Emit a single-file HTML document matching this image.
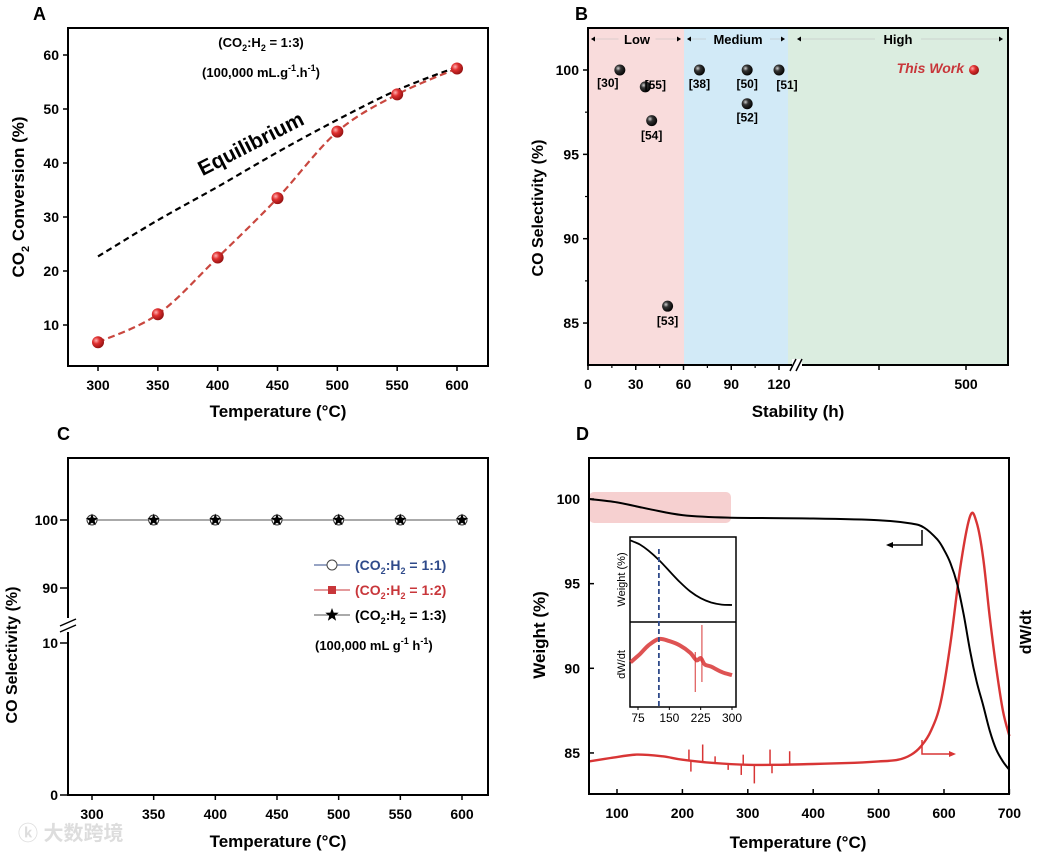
<!DOCTYPE html>
<html><head><meta charset="utf-8">
<style>
html,body{margin:0;padding:0;background:#fff;}
svg{display:block;font-family:"Liberation Sans","Noto Sans CJK SC",sans-serif;font-weight:bold;}
</style></head>
<body>
<svg id="fig" width="1040" height="855" viewBox="0 0 1040 855" xmlns="http://www.w3.org/2000/svg">
<defs>
<radialGradient id="redBall" cx="0.35" cy="0.35" r="0.7"><stop offset="0" stop-color="#ffb0b0"/><stop offset="0.4" stop-color="#e03030"/><stop offset="1" stop-color="#901010"/></radialGradient>
<radialGradient id="blackBall" cx="0.35" cy="0.35" r="0.7"><stop offset="0" stop-color="#d0d0d0"/><stop offset="0.35" stop-color="#333"/><stop offset="1" stop-color="#000"/></radialGradient>
</defs>
<g id="gA"></g>
<g id="gB"></g>
<g id="gC"></g>
<g id="gD"></g>
<text x="18" y="840" font-size="20" fill="#ddd">ⓚ 大数跨境</text>
</svg>
<script>
// ===== Panel A data =====
const aTemps = [300,350,400,450,500,550,600];
const aConv = [6.8,12,22.5,33.5,45.8,52.7,57.5];
const aEqTemps = [300,350,400,450,500,550,600];
const aEq = [22.7,29.4,35.6,42,48,53.5,57.8];
const aYTicks = [10,20,30,40,50,60];
// ===== Panel B data =====
const bRefs = ["[30]","[55]","[54]","[53]","[38]","[50]","[52]","[51]"];
const bHours = [20,36,40,50,70,100,100,120];
const bSel = [100,99,97,86,100,100,98,100];
const bThisHours = [500];
const bThisSel = [100];
const bXTicks = [0,30,60,90,120];
const bYTicks = [85,90,95,100];
// ===== Panel C data =====
const cTemps = [300,350,400,450,500,550,600];
const cSel = [100,100,100,100,100,100,100];
const cYTicksUpper = [90,100];
const cYTicksLower = [0,10];
// ===== Panel D data =====
const dWTemps = [57,100,150,200,270,400,500,550,570,590,600,610,620,630,640,650,660,670,680,690,700];
const dWeight = [100,99.8,99.4,99.05,98.9,98.85,98.75,98.55,98.3,97.6,97,96.2,95,93.2,91,89.2,87.8,86.3,85.2,84.5,84.0];
const dDTemps = [57,90,130,170,200,250,300,350,400,450,500,530,550,565,580,595,610,625,640,650,660,670,680,690,700];
const dDeriv = [84.5,84.7,84.9,84.8,84.6,84.4,84.3,84.3,84.35,84.4,84.5,84.6,84.9,85.4,86.3,88,91.5,96,99,98.6,96.5,93,90,87.5,86];
const dSpikeTemps = [210,213,231,290,293,310,334,337,364,250,270];
const dSpikeVals = [85.2,83.9,85.5,83.7,84.9,83.2,85.2,83.8,85.1,84.8,84.0];
const dXTicks = [100,200,300,400,500,600,700];
const dYTicks = [85,90,95,100];
const insetTemps = [57,80,100,125,150,175,200,225,250,275,300];
const insetWeight = [9.6,9.1,8.4,7.3,6,4.7,3.6,2.8,2.3,2.05,2.0];
const insetDTemps = [57,80,100,125,150,175,200,215,225,235,250,275,300];
const insetDeriv = [4.2,5,5.8,6.4,6.2,5.8,5.1,4.4,4.6,4.0,3.8,3.3,3.0];
const insetXTicks = [75,150,225,300];

const NS="http://www.w3.org/2000/svg";
function mk(parent,tag,attrs,txt){const e=document.createElementNS(NS,tag);for(const k in attrs)e.setAttribute(k,attrs[k]);if(txt!==undefined)e.textContent=txt;parent.appendChild(e);return e;}
function pathD(xs,ys,fx,fy){return xs.map((v,i)=>(i?"L":"M")+fx(v).toFixed(1)+","+fy(ys[i]).toFixed(1)).join(" ");}
function smoothD(xs,ys,fx,fy){
 const P=xs.map((v,i)=>[fx(v),fy(ys[i])]);
 let d="M"+P[0][0].toFixed(1)+","+P[0][1].toFixed(1);
 for(let i=0;i<P.length-1;i++){
  const p0=P[Math.max(0,i-1)],p1=P[i],p2=P[i+1],p3=P[Math.min(P.length-1,i+2)];
  const c1=[p1[0]+(p2[0]-p0[0])/6,p1[1]+(p2[1]-p0[1])/6];
  const c2=[p2[0]-(p3[0]-p1[0])/6,p2[1]-(p3[1]-p1[1])/6];
  d+=` C${c1[0].toFixed(1)},${c1[1].toFixed(1)} ${c2[0].toFixed(1)},${c2[1].toFixed(1)} ${p2[0].toFixed(1)},${p2[1].toFixed(1)}`;
 }
 return d;
}
function interp(xs,ys,t){for(let i=0;i<xs.length-1;i++){if(t>=xs[i]&&t<=xs[i+1]){const f=(t-xs[i])/(xs[i+1]-xs[i]);return ys[i]+f*(ys[i+1]-ys[i]);}}return ys[ys.length-1];}

// ---------- Panel A ----------
(function(){
const g=document.getElementById('gA');
const L=68,R=488,T=28,B=366;
const x=v=>98+(v-300)*(457-98)/300;
const y=v=>55+(60-v)*5.4;
let e;
e=mk(g,'text',{x:33,y:20,'font-size':18},'A');


e=mk(g,'path',{d:smoothD(aEqTemps,aEq,x,y),fill:'none',stroke:'#000','stroke-width':2.2,'stroke-dasharray':'6,4'});


e=mk(g,'path',{d:smoothD(aTemps,aConv,x,y),fill:'none',stroke:'#c9473f','stroke-width':2.2,'stroke-dasharray':'7,4'});


aTemps.forEach((t,i)=>{
 const c=mk(g,'circle',{cx:x(t),cy:y(aConv[i]),r:6,fill:'url(#redBall)'});
 
 
});
e=mk(g,'rect',{x:L,y:T,width:R-L,height:B-T,fill:'none',stroke:'#000','stroke-width':2});


aTemps.forEach(t=>{mk(g,'line',{x1:x(t),x2:x(t),y1:B,y2:B+5,stroke:'#000','stroke-width':1.5});
 const l=mk(g,'text',{x:x(t),y:B+24,'font-size':14,'text-anchor':'middle'},t);
 
 });
aYTicks.forEach(v=>{mk(g,'line',{x1:L-5,x2:L,y1:y(v),y2:y(v),stroke:'#000','stroke-width':1.5});
 const l=mk(g,'text',{x:L-9,y:y(v)+5,'font-size':14,'text-anchor':'end'},v);
 
 });
e=mk(g,'text',{x:278,y:417,'font-size':17,'text-anchor':'middle'},'Temperature (°C)');


e=mk(g,'text',{transform:'translate(24,197) rotate(-90)','font-size':17,'text-anchor':'middle'});
e.innerHTML='CO<tspan font-size="11" dy="5">2</tspan><tspan dy="-5"> Conversion (%)</tspan>';


e=mk(g,'text',{x:261,y:47,'font-size':13,'text-anchor':'middle'});
e.innerHTML='(CO<tspan font-size="9" dy="4">2</tspan><tspan dy="-4">:H</tspan><tspan font-size="9" dy="4">2</tspan><tspan dy="-4"> = 1:3)</tspan>';


e=mk(g,'text',{x:261,y:77,'font-size':13,'text-anchor':'middle'});
e.innerHTML='(100,000 mL.g<tspan font-size="9" dy="-6">-1</tspan><tspan dy="6">.h</tspan><tspan font-size="9" dy="-6">-1</tspan><tspan dy="6">)</tspan>';


e=mk(g,'text',{transform:'translate(254,150) rotate(-27)','font-size':21,'text-anchor':'middle'},'Equilibrium');


})();

// ---------- Panel B ----------
(function(){
const g=document.getElementById('gB');
const L=588,R=1008,T=28,B=365;
const x=v=> v<=125 ? 588+v*(779-588)/120 : 879+(v-300)*(966-879)/200;
const y=v=>70+(100-v)*16.87;
let e;
e=mk(g,'text',{x:575,y:20,'font-size':18},'B');


e=mk(g,'rect',{x:L,y:T,width:684-L,height:B-T,fill:'#f9dcdc'});


e=mk(g,'rect',{x:684,y:T,width:788-684,height:B-T,fill:'#d2eaf7'});


e=mk(g,'rect',{x:788,y:T,width:R-788,height:B-T,fill:'#dbede0'});


[[591,681,'Low',637],[687,785,'Medium',738],[797,1003,'High',898]].forEach(r=>{
 mk(g,'line',{x1:r[0],x2:r[1],y1:39,y2:39,stroke:'#bbb','stroke-width':0.6});
 mk(g,'path',{d:`M${r[0]},39 l4,-2.5 v5 z M${r[1]},39 l-4,-2.5 v5 z`,fill:'#000'});
 const w=r[2].length*9+10;
 mk(g,'rect',{x:r[3]-w/2,y:31,width:w,height:14,fill:r[2]=='Low'?'#f9dcdc':r[2]=='Medium'?'#d2eaf7':'#dbede0'});
 const t=mk(g,'text',{x:r[3],y:44,'font-size':13,'text-anchor':'middle'},r[2]);
 
 
});
const offs={"[30]":[-12,13],"[55]":[10,-2],"[54]":[0,15],"[53]":[0,15],"[38]":[0,14],"[50]":[0,14],"[52]":[0,14],"[51]":[8,15]};
bHours.forEach((h,i)=>{
 const c=mk(g,'circle',{cx:x(h),cy:y(bSel[i]),r:5.5,fill:'url(#blackBall)'});
 
 
 const o=offs[bRefs[i]]||[0,14];
 const t=mk(g,'text',{x:x(h)+o[0],y:y(bSel[i])+o[1]+4,'font-size':12,'text-anchor':'middle'},bRefs[i]);
 
 
});
bThisHours.forEach((h,i)=>{
 const c=mk(g,'circle',{cx:x(h)+8,cy:y(bThisSel[i]),r:5,fill:'url(#redBall)'});
 
 
 const t=mk(g,'text',{x:x(h)-2,y:y(bThisSel[i])+3,'font-size':14,'text-anchor':'end',fill:'#c8363a','font-style':'italic'},'This Work');
 
 
});
e=mk(g,'rect',{x:L,y:T,width:R-L,height:B-T,fill:'none',stroke:'#000','stroke-width':2});


bXTicks.forEach(t=>{mk(g,'line',{x1:x(t),x2:x(t),y1:B,y2:B+5,stroke:'#000','stroke-width':1.5});
 const l=mk(g,'text',{x:x(t),y:B+24,'font-size':14,'text-anchor':'middle'},t);
 
 });
[15,45,75,105].forEach(t=>mk(g,'line',{x1:x(t),x2:x(t),y1:B,y2:B+3,stroke:'#000','stroke-width':1.2}));
mk(g,'line',{x1:879,x2:879,y1:B,y2:B+5,stroke:'#000','stroke-width':1.5});
mk(g,'line',{x1:966,x2:966,y1:B,y2:B+5,stroke:'#000','stroke-width':1.5});
e=mk(g,'text',{x:966,y:B+24,'font-size':14,'text-anchor':'middle'},'500');


mk(g,'rect',{x:792,y:B-6,width:10,height:12,fill:'#fff'});
mk(g,'path',{d:`M790,${B+6} l6,-12 M796,${B+6} l6,-12`,stroke:'#000','stroke-width':1.5});
bYTicks.forEach(v=>{mk(g,'line',{x1:L-5,x2:L,y1:y(v),y2:y(v),stroke:'#000','stroke-width':1.5});
 const l=mk(g,'text',{x:L-9,y:y(v)+5,'font-size':14,'text-anchor':'end'},v);
 
 });
[87.5,92.5,97.5].forEach(v=>mk(g,'line',{x1:L-3,x2:L,y1:y(v),y2:y(v),stroke:'#000','stroke-width':1.2}));
e=mk(g,'text',{x:798,y:417,'font-size':17,'text-anchor':'middle'},'Stability (h)');


e=mk(g,'text',{transform:'translate(543,208) rotate(-90)','font-size':16,'text-anchor':'middle'},'CO Selectivity (%)');


})();

// ---------- Panel C ----------
(function(){
const g=document.getElementById('gC');
const L=68,R=488,T=458,B=795;
const x=v=>92+(v-300)*(462-92)/300;
const y=v=> v>=50 ? 520+(100-v)*6.8 : 795-v*15.2;
let e;
e=mk(g,'text',{x:57,y:440,'font-size':18},'C');


e=mk(g,'path',{d:pathD(cTemps,cSel,x,y),fill:'none',stroke:'#555','stroke-width':1});


function star(cx,cy,r,fill,stroke){let p='';for(let k=0;k<10;k++){const a=-Math.PI/2+k*Math.PI/5;const rr=k%2?r*0.42:r;p+=(k?'L':'M')+(cx+rr*Math.cos(a)).toFixed(1)+','+(cy+rr*Math.sin(a)).toFixed(1);}return mk(g,'path',{d:p+'Z',fill:fill,stroke:stroke||'none','stroke-width':1});}
cTemps.forEach((t,i)=>{
 const c1=mk(g,'circle',{cx:x(t),cy:y(cSel[i]),r:5,fill:'#fff',stroke:'#333','stroke-width':1});
 
 
 const s=star(x(t),y(cSel[i]),6.5,'#000');
 
 
});
e=mk(g,'rect',{x:L,y:T,width:R-L,height:B-T,fill:'none',stroke:'#000','stroke-width':2});


cTemps.forEach(t=>{mk(g,'line',{x1:x(t),x2:x(t),y1:B,y2:B+5,stroke:'#000','stroke-width':1.5});
 const l=mk(g,'text',{x:x(t),y:B+24,'font-size':14,'text-anchor':'middle'},t);
 
 });
cYTicksUpper.concat(cYTicksLower).forEach(v=>{mk(g,'line',{x1:L-8,x2:L,y1:y(v),y2:y(v),stroke:'#000','stroke-width':1.5});
 const l=mk(g,'text',{x:L-10,y:y(v)+5,'font-size':14,'text-anchor':'end'},v);
 
 });
mk(g,'rect',{x:L-6,y:618,width:12,height:14,fill:'#fff'});
mk(g,'path',{d:`M${L-8},626 l16,-7 M${L-8},632 l16,-7`,stroke:'#000','stroke-width':1.5});
const leg=[['#2f4a8a','1:1','circle'],['#c8363a','1:2','square'],['#000','1:3','star']];
leg.forEach((l,i)=>{
 const yy=565+i*25;
 mk(g,'line',{x1:314,x2:350,y1:yy,y2:yy,stroke:l[0]=='#000'?'#555':l[0],'stroke-width':1});
 if(l[2]=='circle')mk(g,'circle',{cx:332,cy:yy,r:5,fill:'#fff',stroke:'#444'});
 else if(l[2]=='square')mk(g,'rect',{x:328,y:yy-4,width:8,height:8,fill:'#c8363a'});
 else star(332,yy,7,'#000');
 const t=mk(g,'text',{x:355,y:yy+5,'font-size':14,fill:l[0]});
 t.innerHTML='(CO<tspan font-size="9" dy="4">2</tspan><tspan dy="-4">:H</tspan><tspan font-size="9" dy="4">2</tspan><tspan dy="-4"> = '+l[1]+')</tspan>';
 
 
});
e=mk(g,'text',{x:315,y:650,'font-size':13});
e.innerHTML='(100,000 mL g<tspan font-size="9" dy="-6">-1</tspan><tspan dy="6"> h</tspan><tspan font-size="9" dy="-6">-1</tspan><tspan dy="6">)</tspan>';


e=mk(g,'text',{x:278,y:847,'font-size':17,'text-anchor':'middle'},'Temperature (°C)');


e=mk(g,'text',{transform:'translate(17,655) rotate(-90)','font-size':16,'text-anchor':'middle'},'CO Selectivity (%)');


})();

// ---------- Panel D ----------
(function(){
const g=document.getElementById('gD');
const L=589,R=1009,T=458,B=794;
const x=v=>617+(v-100)*(944-617)/500;
const y=v=>499+(100-v)*16.93;
let e;
e=mk(g,'text',{x:576,y:440,'font-size':18},'D');


e=mk(g,'rect',{x:L,y:492,width:731-L,height:31,rx:5,fill:'#f6d0d0'});


e=mk(g,'path',{d:smoothD(dDTemps,dDeriv,x,y),fill:'none',stroke:'#d83535','stroke-width':2.4});


dSpikeTemps.forEach((t,i)=>{
 const base=interp(dDTemps,dDeriv,t);
 const s=mk(g,'line',{x1:x(t),x2:x(t),y1:y(base),y2:y(dSpikeVals[i]),stroke:'#d83535','stroke-width':1.5});
 
 
});
e=mk(g,'path',{d:smoothD(dWTemps,dWeight,x,y),fill:'none',stroke:'#000','stroke-width':2});


e=mk(g,'path',{d:'M922,530 V545 H889',fill:'none',stroke:'#000','stroke-width':1.5});


mk(g,'path',{d:'M886,545 l7,-3 v6 z',fill:'#000'});
e=mk(g,'path',{d:'M922,740 V754 H952',fill:'none',stroke:'#d83535','stroke-width':1.5});


mk(g,'path',{d:'M956,754 l-7,-3 v6 z',fill:'#d83535'});
// inset
const iL=630,iR=736,iT=537,iM=622,iB=707;
const ix=v=>638+(v-75)*(732-638)/225;
const iyW=v=>iT+(10-v)*(iM-iT)/10;
const iyD=v=>iM+(8-v)*(iB-iM)/8;
e=mk(g,'rect',{x:iL,y:iT,width:iR-iL,height:iB-iT,fill:'#fff',stroke:'#000','stroke-width':1.5});


mk(g,'line',{x1:iL,x2:iR,y1:iM,y2:iM,stroke:'#000','stroke-width':1.5});
e=mk(g,'path',{d:smoothD(insetTemps,insetWeight,ix,iyW),fill:'none',stroke:'#000','stroke-width':1.8});


e=mk(g,'path',{d:smoothD(insetDTemps,insetDeriv,ix,iyD),fill:'none',stroke:'#d83535','stroke-width':4,'stroke-linejoin':'round','stroke-opacity':0.85});


mk(g,'line',{x1:ix(228),x2:ix(228),y1:iM+3,y2:iM+60,stroke:'#d83535','stroke-width':1});
mk(g,'line',{x1:ix(212),x2:ix(212),y1:iM+30,y2:iM+70,stroke:'#d83535','stroke-width':1});
e=mk(g,'line',{x1:ix(125),x2:ix(125),y1:iT+12,y2:iB,stroke:'#2f4a8a','stroke-width':1.8,'stroke-dasharray':'5,3'});


insetXTicks.forEach(t=>{mk(g,'line',{x1:ix(t),x2:ix(t),y1:iB,y2:iB+3,stroke:'#000'});
 const l=mk(g,'text',{x:ix(t),y:iB+15,'font-size':12,'text-anchor':'middle','font-weight':'normal'},t);
 
 });
e=mk(g,'text',{transform:`translate(625,${(iT+iM)/2}) rotate(-90)`,'font-size':11,'text-anchor':'middle','font-weight':'normal'},'Weight (%)');


e=mk(g,'text',{transform:`translate(625,${(iM+iB)/2}) rotate(-90)`,'font-size':11,'text-anchor':'middle','font-weight':'normal'},'dW/dt');


e=mk(g,'rect',{x:L,y:T,width:R-L,height:B-T,fill:'none',stroke:'#000','stroke-width':2});


dXTicks.forEach(t=>{mk(g,'line',{x1:x(t),x2:x(t),y1:B,y2:B-5,stroke:'#000','stroke-width':1.5});
 const l=mk(g,'text',{x:x(t),y:B+24,'font-size':14,'text-anchor':'middle'},t);
 
 });
dYTicks.forEach(v=>{mk(g,'line',{x1:L,x2:L+5,y1:y(v),y2:y(v),stroke:'#000','stroke-width':1.5});
 const l=mk(g,'text',{x:L-9,y:y(v)+5,'font-size':14,'text-anchor':'end'},v);
 
 });
e=mk(g,'text',{x:798,y:848,'font-size':17,'text-anchor':'middle'},'Temperature (°C)');


e=mk(g,'text',{transform:'translate(545,635) rotate(-90)','font-size':17,'text-anchor':'middle'},'Weight (%)');


e=mk(g,'text',{transform:'translate(1031,632) rotate(-90)','font-size':16,'text-anchor':'middle'},'dW/dt');


})();
</script>
</body></html>
